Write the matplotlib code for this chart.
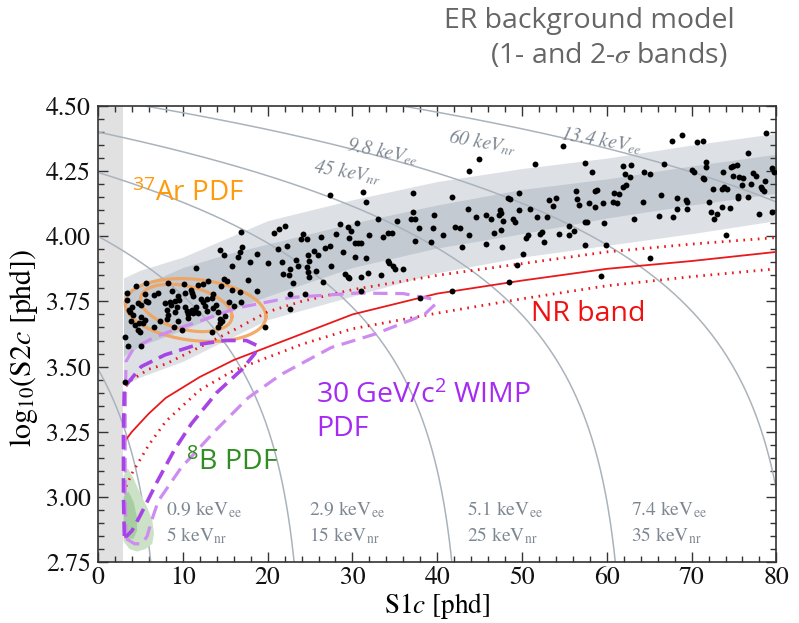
import numpy as np
import matplotlib
matplotlib.use("Agg")
import matplotlib.pyplot as plt

plt.rcParams["mathtext.fontset"] = "stix"
plt.rcParams["mathtext.rm"] = "Open Sans"
plt.rcParams["mathtext.it"] = "Open Sans:italic"
plt.rcParams["mathtext.bf"] = "Open Sans:bold"

# --- ER background band (1- and 2-sigma) ---
band_s1 = [3, 5, 10, 15, 20, 30, 40, 50, 60, 70, 80]
band_outer_hi = [3.84, 3.87, 3.92, 3.99, 4.06, 4.14, 4.21, 4.26, 4.30, 4.35, 4.395]
band_inner_hi = [3.79, 3.81, 3.88, 3.93, 3.97, 4.05, 4.12, 4.18, 4.22, 4.27, 4.315]
band_inner_lo = [3.54, 3.58, 3.64, 3.71, 3.77, 3.88, 3.955, 4.01, 4.07, 4.12, 4.165]
band_outer_lo = [3.43, 3.46, 3.52, 3.60, 3.68, 3.77, 3.86, 3.92, 3.965, 4.01, 4.06]

# --- NR band (median and 10/90 %) ---
nr_s1 = [3.3, 4, 6, 8, 12, 16, 20, 24, 30, 40, 50, 60, 70, 80]
nr_mid = [3.22, 3.25, 3.32, 3.38, 3.46, 3.525, 3.575, 3.625, 3.70, 3.78, 3.83, 3.875, 3.905, 3.94]
nr_hi = [3.425, 3.45, 3.49, 3.51, 3.575, 3.64, 3.71, 3.75, 3.795, 3.85, 3.895, 3.94, 3.97, 3.995]
nr_lo = [3.04, 3.09, 3.20, 3.29, 3.41, 3.485, 3.535, 3.585, 3.645, 3.705, 3.76, 3.81, 3.845, 3.875]

# --- energy contours: keVee, keVnr, S1 end point, log10 S2 at S1=0 ---
e_ee = [0.9, 2.9, 5.1, 7.4, 9.8, 13.4]
e_nr = [5, 15, 25, 35, 45, 60]
e_s1_end = [7.6, 24.5, 43.1, 62.4, 82.6, 113.0]
e_s2_start = [3.49, 4.00, 4.245, 4.40, 4.53, 4.666]

# --- 37Ar PDF contours (centre, half widths, tilt) ---
ar_cx = [11.5, 10.4]
ar_cy = [3.717, 3.725]
ar_a = [8.3, 5.4]
ar_b = [0.118, 0.085]
ar_tilt = [-0.003, -0.006]

# --- WIMP PDF contours ---
wimp_out_s1 = [3.3, 3.2, 3.2, 3.3, 4.2, 6.5, 8.9, 12.5, 16.4, 22.7, 30.5, 36.0, 39.3,
               39.8, 38.5, 37.4, 32.6, 27.5, 21.6, 17.7, 13.8, 9.8, 7.1, 6.3, 5.8,
               5.2, 4.3, 3.3]
wimp_out_s2 = [2.84, 3.0, 3.3, 3.52, 3.57, 3.61, 3.64, 3.68, 3.725, 3.765, 3.782, 3.78,
               3.76, 3.74, 3.70, 3.685, 3.624, 3.573, 3.47, 3.38, 3.253, 3.112, 2.984,
               2.907, 2.85, 2.82, 2.82, 2.84]
wimp_in_s1 = [3.1, 3.0, 3.0, 3.1, 5.1, 7.9, 11.8, 15.0, 17.5, 18.8, 18.5, 17.0, 14.0,
              11.0, 9.0, 7.0, 5.0, 4.0, 3.4, 3.1]
wimp_in_s2 = [2.85, 3.0, 3.25, 3.42, 3.50, 3.545, 3.585, 3.60, 3.60, 3.58, 3.55, 3.49,
              3.40, 3.28, 3.18, 3.06, 2.93, 2.87, 2.85, 2.85]

# --- 8B PDF blobs ---
b8_out_s1 = [3.0, 3.5, 4.2, 5.0, 5.8, 6.4, 6.6, 6.4, 5.6, 4.6, 3.7, 3.0]
b8_out_s2 = [3.08, 3.11, 3.07, 3.01, 2.96, 2.91, 2.86, 2.82, 2.80, 2.79, 2.80, 2.83]
b8_in_s1 = [3.0, 3.6, 4.2, 4.6, 4.6, 4.2, 3.6, 3.0]
b8_in_s2 = [3.00, 3.02, 2.98, 2.92, 2.87, 2.84, 2.84, 2.85]

# --- events ---
ev_s1 = [
    14.4, 14.9, 16.95, 16.7, 16.55, 17.9, 11.6, 15.8, 14.8, 15.25, 17.7, 15.8, 16.8, 16.9,
    16.0, 15.4, 5.7, 4.5, 8.3, 10.1, 11.8, 12.4, 13.0, 14.5, 11.0, 11.1, 11.2, 10.2, 9.4,
    7.1, 8.7, 6.6, 5.5, 5.6, 5.9, 3.4, 3.4, 4.7, 5.1, 4.0, 3.6, 3.8, 4.1, 5.1, 5.5, 4.8,
    5.3, 4.4, 3.9, 4.7, 4.95, 6.6, 7.3, 8.1, 9.4, 8.9, 9.9, 8.3, 7.9, 8.5, 9.1, 9.5, 8.6,
    9.3, 8.1, 9.1, 10.3, 10.5, 10.85, 11.1, 11.4, 10.6, 11.2, 11.8, 10.65, 11.5, 12.4,
    12.2, 12.8, 13.5, 13.4, 13.9, 13.5, 14.1, 12.6, 12.9, 14.4, 14.6, 14.4, 14.1, 13.4,
    15.0, 3.2, 3.5, 5.1, 3.2, 16.9, 18.8, 19.7, 18.7,
    27.3, 31.3, 31.6, 37.1, 37.2, 36.95, 37.4, 39.6, 37.9, 39.5, 37.4, 39.3, 20.8, 21.4,
    22.0, 24.2, 23.9, 24.6, 21.2, 22.3, 20.05, 21.7, 23.4, 23.6, 22.6, 21.8, 22.5, 23.0,
    22.6, 24.4, 22.6, 24.8, 24.85, 24.7, 24.8, 24.85, 25.5, 25.9, 25.75, 26.3, 26.5, 26.8,
    27.4, 27.5, 28.1, 28.5, 28.9, 29.1, 29.5, 29.6, 29.6, 29.5, 29.8, 30.5, 30.35, 30.7,
    30.98, 30.35, 31.6, 31.05, 31.8, 31.96, 33.0, 33.6, 34.2, 34.7, 35.2, 34.2, 34.3, 34.8,
    35.0, 36.0, 33.4, 31.05, 38.0,
    44.9, 43.7, 54.8, 51.5, 57.4, 58.3, 41.7, 49.6, 48.3, 48.6, 43.6, 44.6, 45.7, 46.4,
    47.4, 47.5, 47.3, 47.7, 48.9, 49.2, 49.6, 51.0, 51.8, 52.9, 53.2, 53.65, 54.05, 56.4,
    56.5, 56.7, 57.9, 58.6, 58.8, 59.5, 58.6, 59.7, 42.05, 42.7, 40.7, 43.7, 42.9, 45.7,
    46.7, 47.5, 47.6, 50.5, 50.7, 52.1, 52.3, 52.55, 54.4, 55.5, 55.6, 56.1, 57.4, 57.7,
    57.4, 59.9, 50.15, 49.4, 48.5, 41.7, 59.35,
    68.9, 67.7, 70.6, 71.3, 78.8, 76.6, 66.8, 61.9, 62.8, 62.2, 62.7, 64.4, 65.05, 60.9,
    61.4, 61.9, 62.3, 60.7, 61.2, 64.3, 66.4, 68.3, 69.5, 69.3, 68.3, 69.4, 63.2, 66.2,
    67.8, 70.1, 70.3, 71.7, 71.7, 71.3, 71.5, 73.7, 74.6, 74.9, 75.3, 74.9, 75.6, 76.1,
    77.2, 77.55, 78.6, 79.5, 79.7, 75.9, 77.0, 78.2, 78.3, 78.5, 72.5, 73.6, 73.8, 74.2,
    75.5, 75.5, 76.6, 72.05, 73.6, 74.5, 72.25, 73.0, 72.6, 78.0, 79.5, 74.0, 65.05,
]
ev_log_s2 = [
    3.948, 3.928, 3.96, 3.939, 3.919, 3.903, 3.877, 3.884, 3.835, 3.83, 3.833, 3.794, 3.788,
    3.749, 3.733, 3.746, 3.822, 3.809, 3.82, 3.817, 3.813, 3.817, 3.83, 3.811, 3.794, 3.784,
    3.771, 3.781, 3.771, 3.781, 3.79, 3.774, 3.779, 3.753, 3.749, 3.781, 3.756, 3.743, 3.737,
    3.73, 3.717, 3.711, 3.698, 3.689, 3.679, 3.669, 3.666, 3.66, 3.673, 3.641, 3.634, 3.651,
    3.676, 3.682, 3.673, 3.651, 3.641, 3.698, 3.743, 3.749, 3.753, 3.756, 3.737, 3.73, 3.717,
    3.711, 3.73, 3.715, 3.711, 3.717, 3.717, 3.702, 3.705, 3.707, 3.685, 3.73, 3.749, 3.758,
    3.758, 3.779, 3.762, 3.737, 3.724, 3.711, 3.733, 3.715, 3.682, 3.676, 3.666, 3.651,
    3.634, 3.694, 3.615, 3.579, 3.577, 3.44, 4.018, 3.932, 3.65, 3.79,
    4.158, 4.169, 4.133, 4.165, 4.092, 4.066, 4.065, 4.082, 4.03, 4.03, 3.98, 3.977, 4.014,
    4.028, 4.04, 4.009, 3.988, 3.988, 3.951, 3.964, 3.896, 3.9, 3.909, 3.887, 3.875, 3.854,
    3.85, 3.82, 3.777, 3.777, 3.72, 3.928, 3.905, 3.883, 3.864, 3.845, 3.944, 3.928, 3.867,
    3.999, 3.826, 3.956, 3.963, 3.887, 4.009, 4.046, 3.941, 3.855, 3.845, 3.839, 3.992,
    4.037, 4.022, 4.05, 3.976, 3.973, 3.976, 3.922, 3.918, 3.845, 3.86, 4.005, 4.065, 3.996,
    4.014, 4.014, 4.06, 3.905, 3.899, 3.887, 3.873, 3.873, 3.851, 3.791, 3.765,
    4.296, 4.251, 4.347, 4.278, 4.283, 4.245, 4.15, 4.165, 4.146, 4.142, 4.105, 4.073, 4.082,
    4.067, 4.101, 4.091, 4.082, 4.057, 4.067, 4.054, 4.101, 4.105, 4.073, 4.073, 4.14, 4.118,
    4.146, 4.172, 4.142, 4.12, 4.129, 4.172, 4.178, 4.129, 4.114, 4.05, 4.037, 4.033, 4.003,
    4.005, 3.96, 3.97, 4.012, 4.025, 3.96, 3.993, 4.005, 4.009, 4.018, 3.977, 4.009, 4.041,
    4.005, 4.022, 4.053, 4.053, 3.967, 3.967, 3.932, 3.888, 3.826, 3.79, 3.848,
    4.39, 4.367, 4.36, 4.364, 4.395, 4.319, 4.278, 4.27, 4.274, 4.24, 4.229, 4.245, 4.24,
    4.165, 4.163, 4.188, 4.197, 4.13, 4.127, 4.131, 4.159, 4.145, 4.13, 4.14, 4.106, 4.104,
    4.068, 4.076, 4.073, 4.255, 4.245, 4.284, 4.264, 4.225, 4.219, 4.246, 4.265, 4.268,
    4.274, 4.233, 4.227, 4.225, 4.242, 4.233, 4.214, 4.261, 4.248, 4.197, 4.201, 4.19, 4.182,
    4.174, 4.181, 4.181, 4.188, 4.182, 4.155, 4.146, 4.152, 4.132, 4.112, 4.11, 4.092, 4.086,
    4.067, 4.085, 4.095, 4.005, 3.916,
]

SERIF = "STIXGeneral"
SANS = "Open Sans"
LABEL_GREY = "#7d8792"

fig = plt.figure(figsize=(7.99, 6.23), dpi=100)
ax = fig.add_axes([0.1227, 0.0979, 0.849, 0.7320])
ax.set_xlim(0, 80)
ax.set_ylim(2.75, 4.5)

# S1 threshold strip
ax.axvspan(0, 3, color="#e1e1e1", lw=0, zorder=0)

# ER bands
ax.fill_between(band_s1, band_outer_lo, band_outer_hi, color="#dde1e6", lw=0, zorder=1)
ax.fill_between(band_s1, band_inner_lo, band_inner_hi, color="#c3cad2", lw=0, zorder=1.1)

# energy contours
for x_end, y_start in zip(e_s1_end, e_s2_start):
    s1 = np.linspace(0, x_end * 0.9995, 600)
    ax.plot(s1, y_start + np.log10(1 - s1 / x_end), color="#aab3bc", lw=1.1, zorder=2)

# bottom energy labels
for i in range(4):
    ax.text(e_s1_end[i] + 0.4, 2.95, f"{e_ee[i]} keV$_{{\\mathrm{{ee}}}}$", fontsize=14,
            family=SERIF, color=LABEL_GREY, va="center", ha="left", zorder=3)
    ax.text(e_s1_end[i] + 0.4, 2.853, f"{e_nr[i]} keV$_{{\\mathrm{{nr}}}}$", fontsize=14,
            family=SERIF, color=LABEL_GREY, va="center", ha="left", zorder=3)

# top energy labels
top_labels = [("9.8 keV$_{ee}$", 33.6, 4.325, -11), ("45 keV$_{nr}$", 29.4, 4.245, -9.5),
              ("60 keV$_{nr}$", 45.4, 4.36, -10), ("13.4 keV$_{ee}$", 59.4, 4.37, -9.5)]
for txt, x, y, rot in top_labels:
    ax.text(x, y, txt, fontsize=14, family=SERIF, style="italic", color=LABEL_GREY,
            rotation=rot, ha="center", va="center", zorder=3)

# 8B blobs
ax.fill(b8_out_s1, b8_out_s2, color="#cbe2c6", lw=0, zorder=2.5)
ax.fill(b8_in_s1, b8_in_s2, color="#a6cea1", lw=0, zorder=2.6)

# 37Ar contours
t = np.linspace(0, 2 * np.pi, 300)
for cx, cy, a, b, tilt in zip(ar_cx, ar_cy, ar_a, ar_b, ar_tilt):
    ex = cx + a * np.cos(t)
    ey = cy + b * np.sin(t) + tilt * (ex - cx)
    ax.plot(ex, ey, color="#f2a25a", lw=2.3, alpha=0.9, zorder=3)

# NR band
ax.plot(nr_s1, nr_mid, color="#e8191b", lw=1.3, zorder=3.5)
ax.plot(nr_s1, nr_hi, color="#e8191b", lw=2.0, ls=(0, (0.6, 2.0)), zorder=3.5)
ax.plot(nr_s1, nr_lo, color="#e8191b", lw=2.0, ls=(0, (0.6, 2.0)), zorder=3.5)

# WIMP contours
ax.plot(wimp_out_s1, wimp_out_s2, color="#cf8cf0", lw=2.3, ls=(0, (4.5, 2.4)), zorder=3.6)
ax.plot(wimp_in_s1, wimp_in_s2, color="#a744e6", lw=2.6, ls=(0, (4.0, 2.0)), zorder=3.7)

# events
ax.scatter(ev_s1, ev_log_s2, s=18, color="black", lw=0, zorder=5)

# coloured annotations
ax.text(3.97, 4.135, "$^{\\mathrm{37}}$Ar PDF", fontsize=20, family=SANS, color="#ff9a0a",
        math_fontfamily="custom", zorder=6)
ax.text(51.1, 3.675, "NR band", fontsize=20.5, family=SANS, color="#f01010", zorder=6)
ax.text(25.7, 3.234, "30 GeV/c$^{\\mathrm{2}}$ WIMP\nPDF", fontsize=20.5, family=SANS,
        color="#a52af2", math_fontfamily="custom", linespacing=1.25, zorder=6)
ax.text(10.4, 3.103, "$^{\\mathrm{8}}$B PDF", fontsize=20.5, family=SANS, color="#2f8d21",
        math_fontfamily="custom", zorder=6)

# axes styling
ax.set_xticks(np.arange(0, 81, 10))
ax.set_xticks(np.arange(0, 81, 2), minor=True)
ax.set_yticks(np.arange(2.75, 4.51, 0.25))
ax.set_yticks(np.arange(2.75, 4.51, 0.05), minor=True)
ax.set_yticklabels([f"{v:.2f}" for v in np.arange(2.75, 4.51, 0.25)])
ax.tick_params(which="both", direction="in", top=True, right=True, color="#333333",
               width=1.0, labelsize=18.5, labelcolor="#111111")
ax.tick_params(which="major", length=7, pad=5)
ax.tick_params(axis="x", which="major", pad=3)
ax.tick_params(which="minor", length=4)
for lab in ax.get_xticklabels() + ax.get_yticklabels():
    lab.set_family(SERIF)
for sp in ax.spines.values():
    sp.set_color("#333333")
    sp.set_linewidth(1.2)

ax.set_xlabel("S1$c$ [phd]", fontsize=19.5, family=SERIF)
ax.set_ylabel("log$_{10}$(S2$c$ [phd])", fontsize=21.5, family=SERIF)
ax.xaxis.set_label_coords(0.5, -0.064)
ax.yaxis.set_label_coords(-0.086, 0.47)

# header
fig.text(0.92, 0.955, "ER background model", fontsize=20.5, family=SANS, color="#666666",
         ha="right", va="baseline")
fig.text(0.91, 0.899, "(1- and 2-$\\sigma$ bands)", fontsize=20.5, family=SANS,
         color="#666666", ha="right", va="baseline")

fig.savefig("out.png", dpi=100)
